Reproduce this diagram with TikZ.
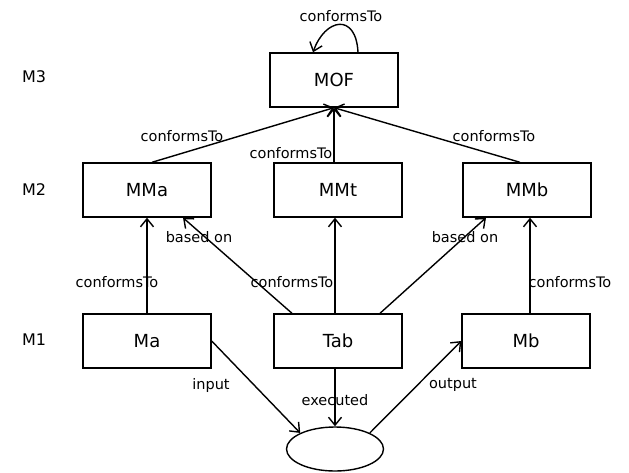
\documentclass[tikz,border=0pt]{standalone}
\usepackage{fontspec}
\setmainfont{DejaVu Sans}
\usetikzlibrary{arrows.meta,shapes.geometric}
\tikzset{
  box/.style={draw,line width=1.4pt,minimum width=128pt,minimum height=54pt,inner sep=0pt,font=\fontsize{18}{18}\selectfont},
  lbl/.style={inner sep=0pt,font=\fontsize{14.5}{14.5}\selectfont},
  lvl/.style={inner sep=0pt,font=\fontsize{16}{16}\selectfont},
  arr/.style={line width=1.4pt,-{Straight Barb[length=8pt,width=13pt,line width=1.4pt]}},
}
\begin{document}
\begin{tikzpicture}[x=1pt,y=-1pt]
\useasboundingbox (0,0) rectangle (629,472);
\node[box] (MOF) at (334,80) {MOF};
\node[box] (MMa) at (147,190) {MMa};
\node[box] (MMt) at (338,190) {MMt};
\node[box] (MMb) at (527,190) {MMb};
\node[box] (Ma) at (147,341) {Ma};
\node[box] (Tab) at (338,341) {Tab};
\node[box] (Mb) at (526,341) {Mb};
\node[draw,ellipse,line width=1.4pt,minimum width=97pt,minimum height=44pt,inner sep=0pt] (E) at (335,449) {};

\node[lvl] (M3) at (34,77) {M3};
\node[lvl] (M2) at (34,190) {M2};
\node[lvl] (M1) at (34,340) {M1};

% self loop
\draw[arr] ([xshift=24pt]MOF.north) .. controls +(-2,-40) and +(12,-34) .. ([xshift=-21pt]MOF.north);
\node[lbl] (l0) at (341,16) {conformsTo};

\draw[arr] ([xshift=5pt]MMa.north) -- (MOF.south);
\node[lbl] (l1) at (182,136) {conformsTo};
\draw[arr] (MOF.south |- MMt.north) -- (MOF.south);
\node[lbl] (l2) at (291,153) {conformsTo};
\draw[arr] ([xshift=-7pt]MMb.north) -- (MOF.south);
\node[lbl] (l3) at (494,136) {conformsTo};

\draw[arr] (Ma.north) -- (MMa.south);
\node[lbl] (l4) at (117,282) {conformsTo};
\draw[arr] ([xshift=-46pt]Tab.north) -- ([xshift=36pt]MMa.south);
\node[lbl] (l5) at (199,237) {based on};
\draw[arr] ([xshift=-3pt]Tab.north) -- ([xshift=-3pt]MMt.south);
\node[lbl] (l6) at (292,282) {conformsTo};
\draw[arr] ([xshift=42pt]Tab.north) -- ([xshift=-41pt]MMb.south);
\node[lbl] (l7) at (465,237) {based on};
\draw[arr] ([xshift=4pt]Mb.north) -- ([xshift=3pt]MMb.south);
\node[lbl] (l8) at (570,282) {conformsTo};

\draw[arr] (Ma.east) -- (E.north west);
\node[lbl] (l9) at (211,385) {input};
\draw[arr] (E.north |- Tab.south) -- (E.north);
\node[lbl] (l10) at (335,400) {executed};
\draw[arr] (E.north east) -- (Mb.west);
\node[lbl] (l11) at (453,385) {output};
\end{tikzpicture}
\end{document}
